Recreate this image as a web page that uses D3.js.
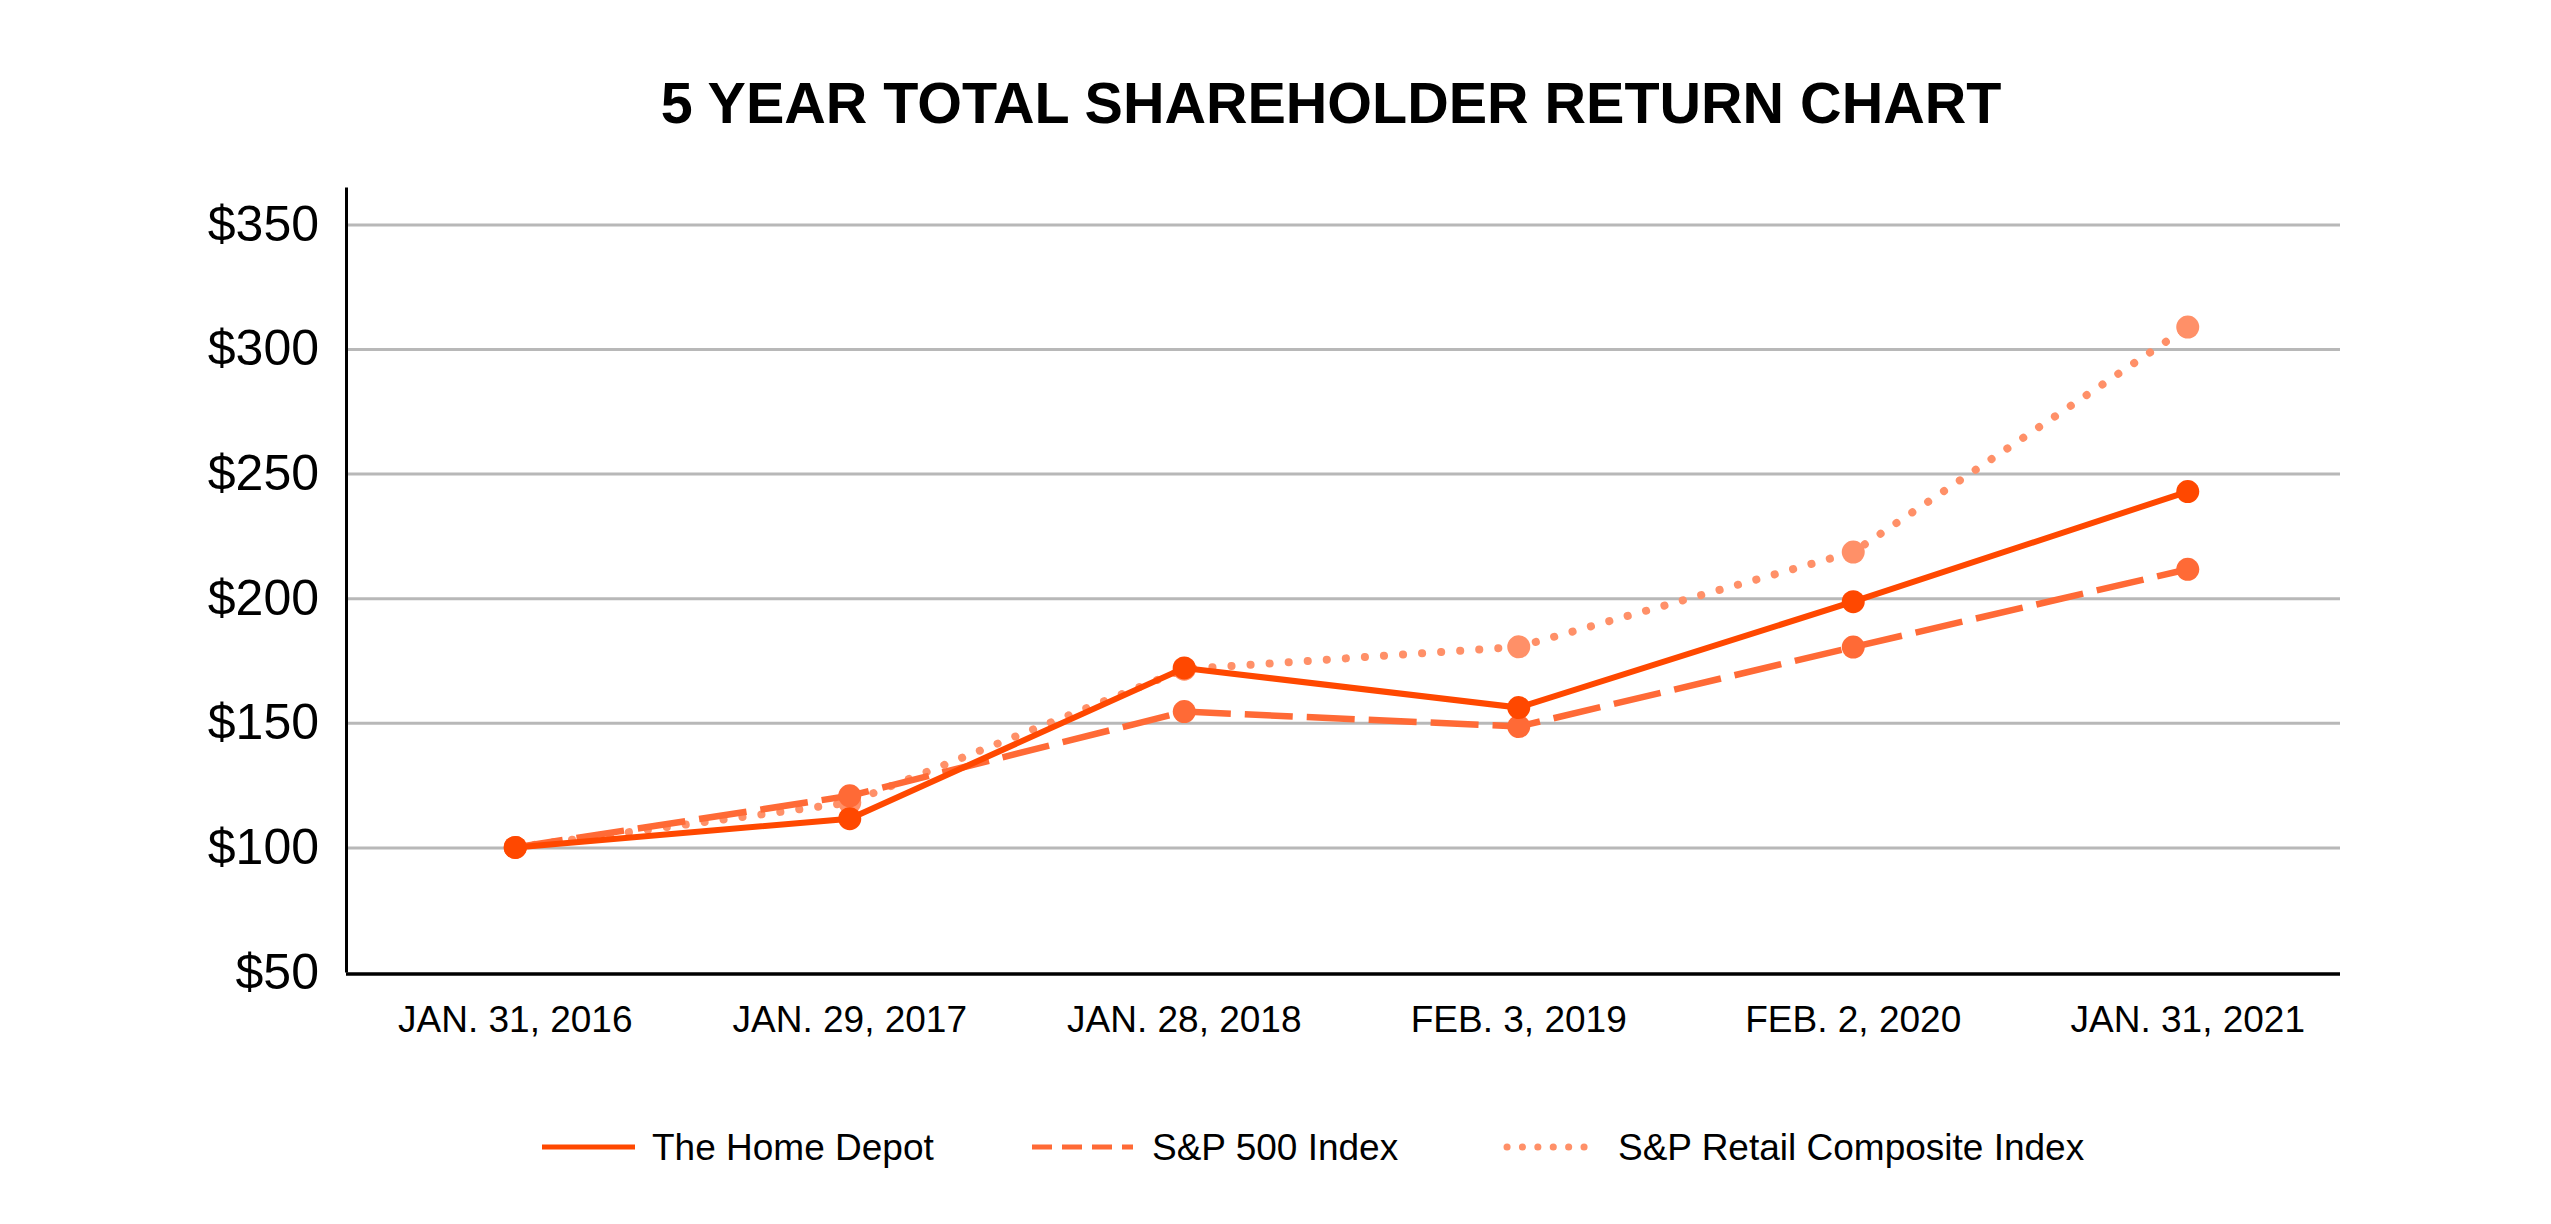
<!DOCTYPE html>
<html>
<head>
  <meta charset="utf-8">
  <script src="https://d3js.org/d3.v7.min.js"></script>
  <style>
    body { margin: 0; background: #fff; }
    svg { display: block; font-family: "Liberation Sans", Arial, sans-serif; }
  </style>
</head>
<body>
<div id="chart"></div>
<script>
    // data
    var dates = ["JAN. 31, 2016", "JAN. 29, 2017", "JAN. 28, 2018", "FEB. 3, 2019", "FEB. 2, 2020", "JAN. 31, 2021"];
    var homeDepot = [100, 111.5, 172, 156.1, 198.6, 242.8];
    var sp500 = [100, 120.7, 154.5, 148.5, 180.4, 211.6];
    var spRetail = [100, 118, 171.5, 180.5, 218.5, 308.8];
    var yTicks = [50, 100, 150, 200, 250, 300, 350];
    var seriesNames = ["The Home Depot", "S&P 500 Index", "S&P Retail Composite Index"];

    var W = 2551, H = 1224;
    var margin = {top: 187, right: 211, bottom: 252, left: 346},
        width = W - margin.left - margin.right,
        height = H - margin.top - margin.bottom;

    var svg = d3.select("#chart")
        .append("svg")
        .attr("width", W)
        .attr("height", H);

    var g = svg.append("g")
        .attr("transform", "translate(" + margin.left + "," + margin.top + ")");

    // the points sit a little wider than the plot frame
    var x = d3.scaleBand()
        .domain(dates)
        .range([2, width + 15]);

    var y = d3.scaleLinear()
        .domain([50, 365])
        .range([height, 0]);

    // gridlines
    g.append("g")
        .attr("class", "grid")
        .call(d3.axisLeft(y).tickValues(yTicks.slice(1)).tickSize(-width).tickFormat(""))
        .call(function (s) {
            s.select(".domain").remove();
            s.selectAll("line").attr("stroke", "#b8b8b8").attr("stroke-width", 3);
        });

    // y axis
    g.append("g")
        .call(d3.axisLeft(y).tickValues(yTicks).tickSize(0).tickPadding(27)
            .tickFormat(function (d) { return "$" + d; }))
        .call(function (s) {
            s.select(".domain").attr("stroke", "#000").attr("stroke-width", 3);
            s.selectAll("text").attr("font-size", 50).attr("fill", "#000")
                .attr("font-family", "Liberation Sans, Arial, sans-serif");
        });

    // x axis
    g.append("g")
        .attr("transform", "translate(0," + (height + 2) + ")")
        .call(d3.axisBottom(x).tickSize(0).tickPadding(32))
        .call(function (s) {
            s.select(".domain").attr("d", "M0,0H" + width)
                .attr("stroke", "#000").attr("stroke-width", 3.5);
            s.selectAll("text").attr("font-size", 37).attr("fill", "#000")
                .attr("font-family", "Liberation Sans, Arial, sans-serif");
        });

    var series = [
        {name: seriesNames[0], values: homeDepot, color: "#ff4800", width: 6, dash: null, legendDash: null},
        {name: seriesNames[1], values: sp500, color: "#ff6a36", width: 6.5, dash: "48 14", legendDash: "20 10"},
        {name: seriesNames[2], values: spRetail, color: "#ff9068", width: 8, dash: "0.1 19", legendDash: "0.1 15.3"}
    ];

    var line = d3.line()
        .x(function (d, i) { return x(dates[i]) + x.bandwidth() / 2; })
        .y(function (d) { return y(d); });

    // draw back-to-front: retail, s&p, home depot
    series.slice().reverse().forEach(function (s) {
        g.append("path")
            .datum(s.values)
            .attr("fill", "none")
            .attr("stroke", s.color)
            .attr("stroke-width", s.width)
            .attr("stroke-dasharray", s.dash)
            .attr("stroke-linecap", s.dash && s.dash.indexOf("0.1") === 0 ? "round" : "butt")
            .attr("d", line);

        g.selectAll(null)
            .data(s.values)
            .enter()
            .append("circle")
            .attr("cx", function (d, i) { return x(dates[i]) + x.bandwidth() / 2; })
            .attr("cy", function (d) { return y(d); })
            .attr("r", 11.5)
            .attr("fill", s.color);
    });

    // title
    svg.append("text")
        .attr("x", 1331)
        .attr("y", 123)
        .attr("text-anchor", "middle")
        .attr("font-size", 57.5)
        .attr("font-weight", "bold")
        .text("5 YEAR TOTAL SHAREHOLDER RETURN CHART");

    // legend
    var legendX = [542, 1032, 1503];
    var legendY = 1147;
    var legend = svg.append("g");
    series.forEach(function (s, i) {
        var isDot = s.legendDash && s.legendDash.indexOf("0.1") === 0;
        legend.append("line")
            .attr("x1", legendX[i] + (isDot ? 4 : 0))
            .attr("x2", legendX[i] + (isDot ? 96 : (i === 0 ? 93 : 101)))
            .attr("y1", legendY)
            .attr("y2", legendY)
            .attr("stroke", s.color)
            .attr("stroke-width", isDot ? 7 : 5)
            .attr("stroke-linecap", isDot ? "round" : "butt")
            .attr("stroke-dasharray", s.legendDash);
        legend.append("text")
            .attr("x", legendX[i] + (i === 0 ? 110 : (i === 1 ? 120 : 115)))
            .attr("y", legendY + 13)
            .attr("font-size", 37)
            .text(s.name);
    });
</script>
</body>
</html>
